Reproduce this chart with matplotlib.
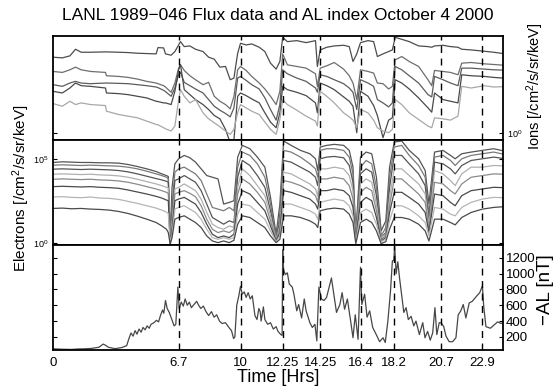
import numpy as np
import matplotlib
matplotlib.use("Agg")
import matplotlib.pyplot as plt

plt.rcParams["font.family"] = ["Liberation Sans", "DejaVu Sans"]
plt.rcParams["mathtext.fontset"] = "custom"
plt.rcParams["mathtext.rm"] = "Liberation Sans"
plt.rcParams["mathtext.it"] = "Liberation Sans:italic"
plt.rcParams["mathtext.bf"] = "Liberation Sans:bold"

# event times (hours) marked with dashed lines
event_hours = [6.7, 10, 12.25, 14.25, 16.4, 18.2, 20.7, 22.9]
xtick_hours = [0] + event_hours
xtick_labels = ["0", "6.7", "10", "12.25", "14.25", "16.4", "18.2", "20.7", "22.9"]

# ---- ion flux, log10 values ----
t_ion = [0, 0.5, 0.9, 1.2, 1.5, 2.0, 2.8, 2.85, 3.5, 4.0,
         4.5, 5.0, 5.5, 5.6, 5.9, 6.0, 6.3, 6.5, 6.7, 6.8,
         7.0, 7.3, 7.6, 8.0, 8.3, 8.6, 8.9, 9.2, 9.45, 9.65,
         9.85, 10.0, 10.3, 10.6, 11.0, 11.3, 11.6, 11.9, 12.1, 12.25,
         12.5, 13.0, 13.5, 14.0, 14.1, 14.25, 14.6, 15.0, 15.5, 15.8,
         16.0, 16.2, 16.4, 16.8, 17.1, 17.3, 17.6, 17.9, 18.1, 18.25,
         18.6, 19.0, 19.5, 20.0, 20.2, 20.35, 20.8, 21.2, 21.6, 21.8,
         22.3, 23.0, 23.5, 24.0]
ion1 = [4.56, 4.52, 4.64, 5.04, 4.86, 4.86, 4.88, 4.88, 4.86, 4.84,
        4.8, 4.78, 4.76, 5.14, 5.12, 4.76, 4.68, 4.9, 5.3, 5.5,
        5.2, 5.24, 5.04, 4.9, 4.56, 4.44, 3.96, 4.0, 3.2, 3.3,
        4.8, 5.4, 5.3, 5.36, 5.16, 4.9, 4.2, 3.84, 4.3, 5.76,
        5.5, 5.56, 5.44, 5.56, 4.0, 5.0, 5.16, 5.24, 5.28, 5.2,
        4.3, 4.76, 5.44, 5.56, 5.5, 4.6, 4.76, 4.9, 5.0, 5.76,
        5.64, 5.5, 5.24, 5.2, 5.16, 5.24, 5.28, 5.2, 5.16, 5.04,
        5.0, 4.92, 4.86, 4.78]
ion2 = [3.7, 3.64, 3.8, 3.96, 3.8, 3.7, 3.64, 3.44, 3.4, 3.34,
        3.24, 3.1, 3.0, 2.96, 2.84, 2.76, 2.44, 3.0, 3.9, 4.1,
        3.76, 3.44, 3.2, 2.9, 3.04, 2.2, 1.9, 1.7, 1.44, 2.2,
        3.8, 4.0, 3.76, 3.4, 3.0, 2.64, 2.2, 1.7, 2.5, 4.76,
        4.1, 4.0, 3.9, 3.56, 2.8, 3.9, 4.04, 4.24, 3.84, 3.44,
        3.0, 2.0, 3.8, 3.7, 3.6, 3.0, 2.96, 2.64, 2.8, 4.4,
        4.6, 4.3, 4.0, 3.2, 2.84, 3.76, 3.7, 3.64, 3.5, 4.2,
        4.24, 4.16, 4.12, 4.08]
ion3 = [2.9, 2.8, 3.0, 3.1, 3.0, 2.96, 3.0, 3.0, 2.98, 2.96,
        2.9, 2.84, 2.76, 2.72, 2.56, 2.48, 2.2, 2.7, 3.5, 3.64,
        3.04, 2.84, 2.64, 2.4, 2.0, 1.6, 1.36, 1.16, 0.96, 1.5,
        3.3, 3.4, 3.16, 2.9, 2.64, 2.1, 1.4, 0.76, 1.7, 3.8,
        3.56, 3.3, 3.1, 2.7, 2.44, 3.5, 3.4, 3.2, 2.96, 2.7,
        2.44, 1.4, 3.2, 3.0, 2.8, 2.0, 1.8, 1.56, 1.8, 4.0,
        3.8, 3.44, 3.0, 2.3, 2.16, 3.4, 3.2, 3.0, 2.84, 3.9,
        3.9, 3.84, 3.8, 3.78]
ion4 = [2.5, 2.4, 2.7, 3.0, 2.84, 2.8, 2.7, 2.4, 2.36, 2.3,
        2.2, 2.1, 1.9, 1.88, 1.8, 1.8, 1.7, 2.5, 3.8, 4.1,
        2.6, 2.3, 2.0, 1.7, 1.4, 1.04, 0.84, 0.2, -0.6, -0.4,
        2.2, 2.4, 2.24, 2.04, 1.8, 1.2, 0.64, 0.3, 1.2, 2.8,
        2.6, 2.44, 2.24, 1.8, 1.2, 3.0, 2.84, 2.6, 2.16, 1.9,
        1.6, 0.0, 2.5, 2.2, 1.64, 1.04, -0.3, 0.76, 0.9, 3.2,
        3.0, 2.64, 2.1, 1.5, 1.24, 2.4, 2.0, 1.9, 1.8, 3.5,
        3.44, 3.4, 3.34, 3.3]
ion5 = [1.76, 1.6, 1.9, 1.7, 1.8, 1.7, 1.64, 1.3, 1.1, 1.0,
        0.9, 0.7, 0.5, 0.48, 0.3, 0.24, 0.1, 0.4, 2.0, 2.6,
        2.2, 1.8, 2.0, 1.2, 0.84, 0.6, 0.36, 0.1, -0.1, 0.2,
        1.2, 1.7, 1.5, 1.3, 1.1, 0.64, 0.2, -0.1, 0.8, 2.0,
        1.7, 1.36, 1.0, 0.7, 0.4, 2.5, 2.2, 1.8, 1.2, 0.96,
        0.76, 0.3, 1.4, 1.2, 0.76, 0.3, 0.1, 0.0, 0.2, 2.0,
        1.7, 1.2, 0.8, 0.4, 0.3, 0.9, 0.84, 0.76, 1.0, 2.8,
        2.7, 2.84, 2.76, 2.78]
ion_series = [ion1, ion2, ion3, ion4, ion5]
ion_colors = ["#4d4d4d", "#6e6e6e", "#5c5c5c", "#4a4a4a", "#a8a8a8"]

# ---- electron flux, log10 values ----
t_el = [0, 0.5, 1.0, 1.5, 2.0, 2.5, 3.0, 3.5, 4.0, 4.5,
        5.0, 5.5, 5.8, 6.05, 6.15, 6.25, 6.35, 6.5, 6.7, 7.0,
        7.3, 7.6, 7.9, 8.2, 8.5, 8.8, 9.1, 9.4, 9.65, 9.85,
        10.1, 10.5, 10.9, 11.3, 11.6, 11.9, 12.1, 12.3, 12.7, 13.2,
        13.7, 14.0, 14.12, 14.25, 14.6, 15.0, 15.5, 15.8, 16.0, 16.15,
        16.4, 16.7, 17.0, 17.25, 17.5, 17.75, 17.95, 18.2, 18.6, 19.0,
        19.5, 19.85, 20.05, 20.35, 20.8, 21.2, 21.45, 21.8, 22.3, 22.9,
        23.5, 24.0]
el1 = [4.78, 4.82, 4.8, 4.78, 4.78, 4.76, 4.76, 4.74, 4.66, 4.54,
       4.4, 4.24, 4.1, 4.0, 3.94, 0.3, 3.3, 4.7, 5.0, 5.2,
       5.06, 4.8, 4.4, 4.0, 3.9, 3.8, 2.3, 2.4, 2.5, 5.1,
       5.8, 5.6, 5.1, 4.5, 2.7, 0.5, 2.3, 6.06, 5.8, 5.5,
       5.3, 5.0, 4.3, 5.7, 5.8, 5.86, 5.8, 5.5, 4.5, 0.5,
       5.1, 5.4, 5.3, 3.9, 0.7, 1.3, 4.5, 6.0, 6.06, 5.5,
       5.0, 4.3, 2.3, 5.4, 5.5, 5.2, 5.0, 5.3, 5.4, 5.5,
       5.6, 5.48]
el2 = [4.62, 4.64, 4.62, 4.6, 4.62, 4.6, 4.58, 4.56, 4.5, 4.4,
       4.26, 4.1, 4.0, 3.9, 3.8, 0.2, 2.3, 4.2, 4.4, 4.5,
       4.3, 4.1, 3.7, 2.9, 2.1, 2.0, 1.9, 2.1, 1.9, 4.5,
       5.4, 5.2, 4.7, 3.9, 2.3, 0.3, 1.7, 5.5, 5.4, 5.1,
       4.7, 4.4, 3.9, 5.5, 5.6, 5.6, 5.5, 5.1, 4.1, 0.3,
       4.5, 4.9, 4.7, 3.3, 0.4, 0.9, 3.9, 5.7, 5.8, 5.2,
       4.6, 3.9, 1.7, 5.1, 5.2, 4.9, 4.6, 5.0, 5.2, 5.3,
       5.4, 5.28]
el3 = [4.38, 4.4, 4.38, 4.36, 4.38, 4.36, 4.34, 4.3, 4.22, 4.1,
       3.96, 3.82, 3.74, 3.66, 3.6, 0.1, 1.7, 3.7, 3.8, 4.0,
       3.8, 3.6, 3.1, 2.3, 1.5, 1.3, 1.1, 1.3, 1.2, 3.9,
       4.9, 4.6, 4.0, 3.3, 1.9, 0.2, 1.3, 4.9, 4.8, 4.5,
       4.2, 3.9, 3.4, 5.0, 5.1, 5.14, 5.06, 4.6, 3.6, 0.2,
       4.1, 4.4, 4.2, 2.8, 0.3, 0.6, 3.3, 5.2, 5.2, 4.7,
       4.1, 3.4, 1.3, 4.8, 4.7, 4.4, 4.1, 4.6, 4.9, 5.0,
       5.1, 5.02]
el4 = [4.08, 4.1, 4.08, 4.06, 4.08, 4.04, 4.02, 3.98, 3.9, 3.78,
       3.64, 3.5, 3.4, 3.3, 3.26, 0.1, 1.3, 3.2, 3.3, 3.5,
       3.3, 3.1, 2.6, 1.8, 1.1, 0.9, 0.8, 1.0, 0.9, 3.3,
       4.4, 4.0, 3.4, 2.8, 1.6, 0.2, 1.0, 4.2, 4.1, 3.8,
       3.5, 3.2, 2.8, 4.4, 4.4, 4.5, 4.4, 4.0, 3.1, 0.2,
       3.5, 3.8, 3.6, 2.3, 0.3, 0.5, 2.7, 4.4, 4.4, 4.0,
       3.5, 2.9, 1.0, 4.3, 4.1, 3.7, 3.4, 4.1, 4.5, 4.5,
       4.6, 4.58]
el5 = [3.78, 3.8, 3.78, 3.76, 3.78, 3.74, 3.72, 3.68, 3.6, 3.48,
       3.34, 3.2, 3.1, 3.0, 2.94, 0.06, 1.0, 2.9, 3.0, 3.1,
       2.94, 2.74, 2.2, 1.4, 0.8, 0.6, 0.7, 0.6, 0.8, 2.9,
       3.8, 3.5, 3.0, 2.4, 1.3, 0.14, 0.8, 3.7, 3.6, 3.4,
       3.1, 2.8, 2.4, 3.8, 3.8, 3.9, 3.8, 3.4, 2.6, 0.14,
       3.0, 3.3, 3.1, 1.9, 0.2, 0.4, 2.2, 3.8, 3.8, 3.4,
       2.9, 2.4, 0.8, 3.6, 3.5, 3.1, 2.9, 3.5, 3.9, 4.0,
       4.1, 4.08]
el6 = [3.34, 3.36, 3.34, 3.32, 3.34, 3.3, 3.28, 3.24, 3.14, 3.02,
       2.9, 2.76, 2.66, 2.54, 2.5, 0.0, 0.7, 2.5, 2.6, 2.7,
       2.5, 2.3, 1.8, 1.1, 0.5, 0.3, 0.4, 0.3, 0.5, 2.3,
       3.1, 2.9, 2.4, 1.9, 1.0, 0.1, 0.6, 3.1, 3.0, 2.8,
       2.6, 2.3, 2.0, 3.1, 3.1, 3.2, 3.1, 2.8, 2.1, 0.1,
       2.4, 2.7, 2.5, 1.5, 0.1, 0.3, 1.8, 3.0, 3.0, 2.7,
       2.3, 1.8, 0.6, 2.9, 2.8, 2.4, 2.2, 2.8, 3.1, 3.2,
       3.3, 3.28]
el7 = [2.72, 2.74, 2.7, 2.68, 2.72, 2.66, 2.64, 2.58, 2.46, 2.34,
       2.2, 2.06, 1.94, 1.82, 1.74, -0.06, 0.5, 2.0, 2.1, 2.2,
       2.0, 1.8, 1.4, 0.8, 0.3, 0.2, 0.3, 0.2, 0.3, 1.7,
       2.3, 2.2, 1.8, 1.4, 0.7, 0.06, 0.4, 2.3, 2.3, 2.1,
       1.9, 1.7, 1.4, 2.4, 2.5, 2.6, 2.5, 2.2, 1.6, 0.06,
       1.8, 2.0, 1.8, 1.1, 0.06, 0.2, 1.3, 2.2, 2.2, 2.0,
       1.6, 1.2, 0.4, 2.1, 2.0, 1.7, 1.6, 2.1, 2.4, 2.6,
       2.7, 2.68]
el8 = [2.04, 2.06, 2.02, 2.04, 2.0, 1.98, 1.94, 1.86, 1.74, 1.58,
       1.4, 1.2, 1.0, 0.8, 0.6, -0.1, 0.3, 1.4, 1.5, 1.6,
       1.4, 1.2, 0.9, 0.4, 0.1, 0.0, 0.1, 0.0, 0.14, 1.1,
       1.6, 1.5, 1.2, 0.9, 0.4, 0.0, 0.2, 1.6, 1.6, 1.5,
       1.3, 1.1, 0.9, 1.9, 2.0, 2.06, 2.0, 1.7, 1.2, -0.06,
       1.2, 1.4, 1.2, 0.7, -0.06, 0.06, 0.8, 1.5, 1.5, 1.4,
       1.1, 0.7, 0.1, 1.4, 1.4, 1.2, 1.06, 1.5, 1.8, 2.0,
       2.1, 2.14]
el_series = [el1, el2, el3, el4, el5, el6, el7, el8]
el_colors = ["#555555", "#7a7a7a", "#555555", "#b0b0b0",
             "#8a8a8a", "#4a4a4a", "#b5b5b5", "#4a4a4a"]

# ---- AL index [nT] ----
t_al = [0.0, 0.45, 0.98, 1.34, 1.7, 2.05, 2.23, 2.45, 2.68, 2.8,
        2.95, 3.3, 3.66, 3.93, 4.05, 4.16, 4.27, 4.38, 4.48, 4.59,
        4.7, 4.8, 4.91, 5.02, 5.13, 5.23, 5.38, 5.52, 5.63, 5.73,
        5.84, 5.91, 6.0, 6.09, 6.2, 6.34, 6.46, 6.55, 6.66, 6.73,
        6.84, 6.95, 7.05, 7.16, 7.27, 7.38, 7.52, 7.66, 7.77, 7.88,
        8.02, 8.16, 8.3, 8.45, 8.59, 8.73, 8.88, 9.02, 9.2, 9.38,
        9.52, 9.63, 9.7, 9.8, 9.91, 10.0, 10.09, 10.2, 10.3, 10.41,
        10.52, 10.63, 10.77, 10.88, 10.98, 11.05, 11.1, 11.22, 11.3, 11.45,
        11.6, 11.75, 11.9, 12.0, 12.15, 12.22, 12.25, 12.3, 12.4, 12.5,
        12.6, 12.76, 12.85, 13.0, 13.1, 13.26, 13.4, 13.5, 13.7, 13.83,
        13.97, 14.07, 14.18, 14.32, 14.45, 14.59, 14.72, 14.85, 14.98, 15.12,
        15.3, 15.42, 15.55, 15.7, 15.85, 16.0, 16.12, 16.27, 16.4, 16.47,
        16.62, 16.75, 16.89, 17.05, 17.24, 17.42, 17.6, 17.72, 17.86, 18.0,
        18.1, 18.18, 18.22, 18.3, 18.39, 18.48, 18.57, 18.71, 18.83, 18.95,
        19.1, 19.24, 19.36, 19.54, 19.72, 19.84, 19.98, 20.12, 20.25, 20.37,
        20.47, 20.6, 20.7, 20.84, 20.96, 21.13, 21.31, 21.49, 21.61, 21.75,
        21.88, 22.02, 22.2, 22.36, 22.57, 22.76, 22.9, 22.97, 23.09, 23.33,
        23.52, 23.71, 23.9, 24.0]
al_nt = [50, 45, 42, 48, 50, 55, 62, 70, 110, 95,
         70, 52, 65, 90, 180, 250, 210, 280, 235, 300,
         260, 320, 290, 340, 310, 360, 380, 410, 390, 470,
         540, 500, 660, 560, 510, 420, 340, 360, 830, 560,
         640, 590, 680, 600, 640, 570, 610, 650, 600, 560,
         590, 520, 470, 520, 450, 480, 400, 370, 380, 320,
         280, 180, 200, 600, 720, 840, 740, 770, 700, 760,
         680, 720, 470, 420, 560, 520, 400, 580, 420, 360,
         380, 300, 330, 270, 230, 220, 1300, 1040, 990, 1010,
         870, 830, 740, 530, 610, 440, 680, 530, 380, 320,
         360, 150, 830, 680, 660, 700, 820, 945, 740, 510,
         610, 760, 550, 680, 440, 190, 480, 170, 1080, 610,
         740, 450, 530, 320, 230, 140, 190, 130, 400, 780,
         1160, 1170, 1360, 1000, 1150, 950, 780, 510, 570, 420,
         460, 340, 400, 230, 380, 190, 270, 160, 250, 570,
         230, 380, 380, 330, 210, 140, 140, 190, 480, 530,
         610, 440, 630, 650, 710, 760, 845, 590, 330, 310,
         350, 390, 370, 380]
al_ticks = [200, 400, 600, 800, 1000, 1200]

W, H = 560, 386
LEFT, RIGHT = 53, 503


def panel_box(top, bottom):
    return [LEFT / W, 1 - bottom / H, (RIGHT - LEFT) / W, (bottom - top) / H]


fig = plt.figure(figsize=(W / 100, H / 100), dpi=100)
ax_ion = fig.add_axes(panel_box(36, 140))
ax_el = fig.add_axes(panel_box(140, 245))
ax_al = fig.add_axes(panel_box(245, 350))

for vals, col in zip(ion_series, ion_colors):
    ax_ion.plot(t_ion, np.power(10.0, vals), color=col, lw=0.9)
for vals, col in zip(el_series, el_colors):
    ax_el.plot(t_el, np.power(10.0, vals), color=col, lw=0.9)
ax_al.plot(t_al, al_nt, color="#474747", lw=0.9)

ax_ion.set_yscale("log")
ax_el.set_yscale("log")
ax_ion.set_ylim(10 ** -0.44, 10 ** 5.84)
ax_el.set_ylim(10 ** -0.14, 10 ** 6.12)
ax_al.set_ylim(35, 1362)

for ax in (ax_ion, ax_el, ax_al):
    ax.set_xlim(0, 24)
    for t in event_hours:
        ax.axvline(t, color="black", lw=1.0, ls=(0, (5, 4)), zorder=3)
    for sp in ax.spines.values():
        sp.set_linewidth(1.3)
    ax.minorticks_off()

ax_ion.set_yticks([1])
ax_ion.set_yticklabels(["$10^0$"])
ax_ion.tick_params(axis="y", direction="in", length=3, left=True, right=True,
                   labelleft=False, labelright=True, labelsize=6.5, pad=3)
ax_ion.tick_params(axis="x", length=0, labelbottom=False)

ax_el.set_yticks([1, 1e5])
ax_el.set_yticklabels(["$10^0$", "$10^5$"])
ax_el.tick_params(axis="y", direction="in", length=3, left=True, right=True,
                  labelleft=True, labelright=False, labelsize=6.5, pad=3)
ax_el.tick_params(axis="x", length=0, labelbottom=False)

ax_al.set_yticks(al_ticks)
ax_al.tick_params(axis="y", direction="in", length=3, left=True, right=True,
                  labelleft=False, labelright=True, labelsize=9.5, pad=2)
ax_al.set_xticks(xtick_hours)
ax_al.set_xticklabels(xtick_labels)
ax_al.tick_params(axis="x", direction="in", length=0, labelsize=9.5, pad=5)
ax_al.set_xlabel("Time [Hrs]", fontsize=13, labelpad=0)

fig.text(278 / W, 1 - 15 / H, "LANL 1989\u2212046 Flux data and AL index October 4 2000",
         ha="center", va="center", fontsize=12.5)
fig.text(21 / W, 1 - 188 / H, "Electrons [/cm$^2$/s/sr/keV]", rotation=90,
         ha="center", va="center", fontsize=11)
fig.text(535 / W, 1 - 86 / H, "Ions [/cm$^2$/s/sr/keV]", rotation=90,
         ha="center", va="center", fontsize=10.5)
fig.text(545 / W, 1 - 290 / H, "\u2212AL [nT]", rotation=90,
         ha="center", va="center", fontsize=13.5)

fig.savefig("out.png", dpi=100)
